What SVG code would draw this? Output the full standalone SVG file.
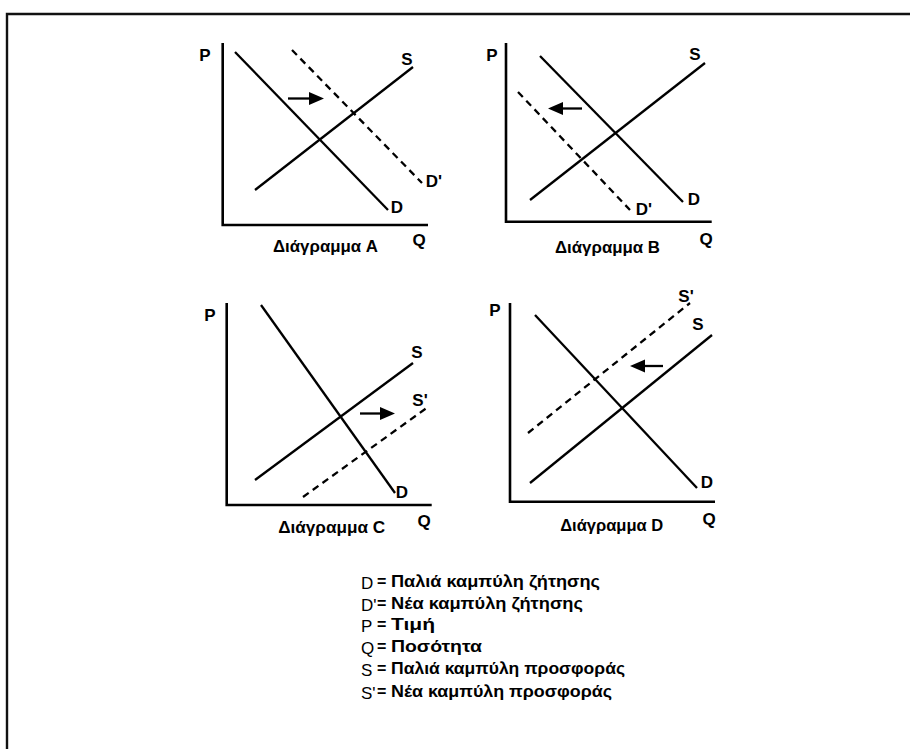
<svg xmlns="http://www.w3.org/2000/svg" width="910" height="749" viewBox="0 0 910 749">
<style>
.ax{fill:none;stroke:#000;stroke-width:2.6}
.ln{fill:none;stroke:#000;stroke-width:2.3}
.ds{fill:none;stroke:#000;stroke-width:2.3;stroke-dasharray:7,5}
.lb{font-family:"Liberation Sans",Arial,sans-serif;font-weight:700;font-size:17px;fill:#000;text-anchor:middle}
.cap{font-family:"Liberation Sans",Arial,sans-serif;font-weight:700;font-size:16px;fill:#000;text-anchor:middle}
.lg{font-family:"Liberation Sans",Arial,sans-serif;font-weight:700;font-size:16px;fill:#000}
.sy{font-family:"Liberation Sans",Arial,sans-serif;font-weight:400;font-size:17px;fill:#000}
.hd{fill:#000}
</style>
<rect x="0" y="0" width="910" height="749" fill="#fff"/>
<path d="M7,749 V14 H910" fill="none" stroke="#111" stroke-width="2.4"/>

<g id="panelA">
<path class="ax" d="M222.7,43 V225 H428"/>
<line class="ln" x1="235" y1="52" x2="388" y2="210"/>
<line class="ln" x1="255" y1="190" x2="413" y2="67"/>
<line class="ds" x1="292" y1="50" x2="422" y2="183"/>
<g id="arrowA"><line class="ln" x1="288" y1="98.5" x2="312" y2="98.5"/><polygon class="hd" points="309,92 324,98.5 309,105"/></g>
<text class="lb" x="205" y="61">P</text>
<text class="lb" x="407" y="65">S</text>
<text class="lb" x="434" y="187">D'</text>
<text class="lb" x="397" y="213">D</text>
<text class="lb" x="419" y="246">Q</text>
<text class="cap" x="325.5" y="252" textLength="105" lengthAdjust="spacingAndGlyphs">Διάγραμμα A</text>
</g>

<g id="panelB">
<path class="ax" d="M506,43 V221.7 H711.7"/>
<line class="ln" x1="540" y1="56" x2="683" y2="202"/>
<line class="ln" x1="530" y1="200" x2="705" y2="63"/>
<line class="ds" x1="518" y1="92" x2="630" y2="210"/>
<g id="arrowB"><line class="ln" x1="582" y1="108.5" x2="560" y2="108.5"/><polygon class="hd" points="563,102 548,108.5 563,115"/></g>
<text class="lb" x="492" y="61">P</text>
<text class="lb" x="695" y="60">S</text>
<text class="lb" x="644" y="215">D'</text>
<text class="lb" x="694" y="205">D</text>
<text class="lb" x="706" y="245">Q</text>
<text class="cap" x="607.5" y="253" textLength="105" lengthAdjust="spacingAndGlyphs">Διάγραμμα B</text>
</g>

<g id="panelC">
<path class="ax" d="M226.7,303 V505 H431.7"/>
<line class="ln" x1="261" y1="305" x2="395" y2="493"/>
<line class="ln" x1="255" y1="480" x2="413" y2="363"/>
<line class="ds" x1="303" y1="497" x2="428" y2="407"/>
<g id="arrowC"><line class="ln" x1="360" y1="413.5" x2="383" y2="413.5"/><polygon class="hd" points="380,407 395,413.5 380,420"/></g>
<text class="lb" x="210" y="321">P</text>
<text class="lb" x="417" y="358">S</text>
<text class="lb" x="420" y="406">S'</text>
<text class="lb" x="402" y="498">D</text>
<text class="lb" x="424" y="527">Q</text>
<text class="cap" x="331.7" y="533" textLength="107" lengthAdjust="spacingAndGlyphs">Διάγραμμα C</text>
</g>

<g id="panelD">
<path class="ax" d="M510,303 V501.7 H715"/>
<line class="ln" x1="535" y1="315" x2="697" y2="488"/>
<line class="ln" x1="530" y1="483" x2="712" y2="335"/>
<line class="ds" x1="528" y1="433" x2="690" y2="303"/>
<g id="arrowD"><line class="ln" x1="663" y1="366" x2="642" y2="366"/><polygon class="hd" points="645,359.5 630,366 645,372.5"/></g>
<text class="lb" x="495" y="316">P</text>
<text class="lb" x="686" y="302">S'</text>
<text class="lb" x="698" y="330">S</text>
<text class="lb" x="707" y="488">D</text>
<text class="lb" x="709" y="525">Q</text>
<text class="cap" x="611.7" y="531" textLength="103" lengthAdjust="spacingAndGlyphs">Διάγραμμα D</text>
</g>

<g id="legend">
<text class="sy" x="361" y="589">D</text><text class="lg" x="377" y="587">=</text><text class="lg" x="391" y="587" textLength="209" lengthAdjust="spacingAndGlyphs">Παλιά καμπύλη ζήτησης</text>
<text class="sy" x="361" y="611">D'</text><text class="lg" x="377" y="609">=</text><text class="lg" x="391" y="609" textLength="192" lengthAdjust="spacingAndGlyphs">Νέα καμπύλη ζήτησης</text>
<text class="sy" x="361" y="632">P</text><text class="lg" x="377" y="630">=</text><text class="lg" x="391" y="630" textLength="44" lengthAdjust="spacingAndGlyphs">Τιμή</text>
<text class="sy" x="361" y="654">Q</text><text class="lg" x="377" y="652">=</text><text class="lg" x="391" y="652" textLength="91" lengthAdjust="spacingAndGlyphs">Ποσότητα</text>
<text class="sy" x="361" y="676">S</text><text class="lg" x="377" y="674">=</text><text class="lg" x="391" y="674" textLength="234" lengthAdjust="spacingAndGlyphs">Παλιά καμπύλη προσφοράς</text>
<text class="sy" x="361" y="699">S'</text><text class="lg" x="377" y="697">=</text><text class="lg" x="391" y="697" textLength="221" lengthAdjust="spacingAndGlyphs">Νέα καμπύλη προσφοράς</text>
</g>
</svg>
